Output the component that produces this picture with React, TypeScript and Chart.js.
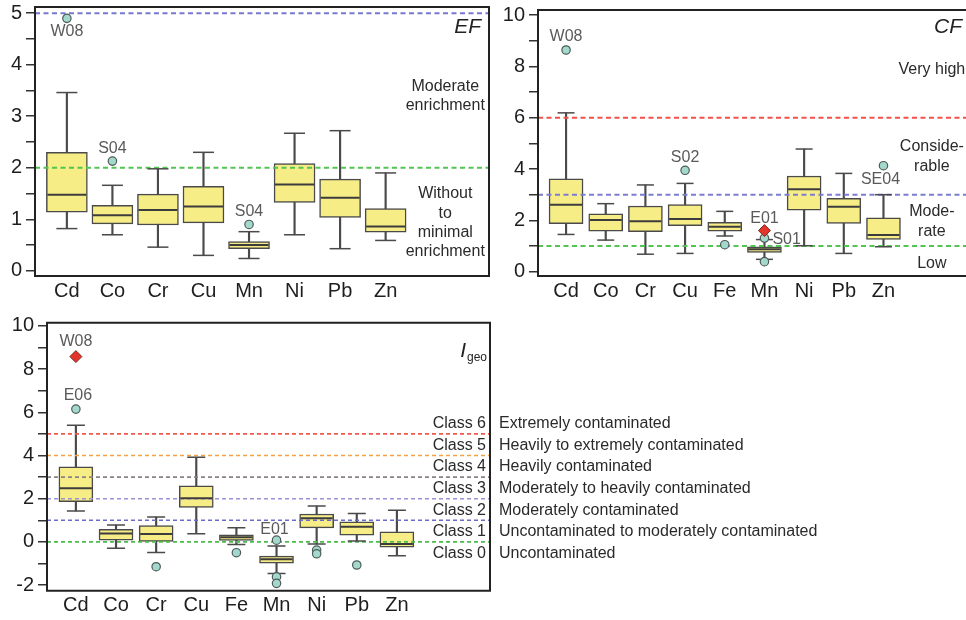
import { useEffect, useRef } from 'react';
import { Chart, registerables } from 'chart.js';
Chart.register(...registerables);

// ---------------- DATA ----------------
const EF_ELEMENTS = ['Cd', 'Co', 'Cr', 'Cu', 'Mn', 'Ni', 'Pb', 'Zn'];
const EF_MIN = [0.82, 0.70, 0.46, 0.30, 0.24, 0.70, 0.43, 0.59];
const EF_Q1 = [1.14, 0.91, 0.89, 0.93, 0.43, 1.33, 1.035, 0.75];
const EF_MEDIAN = [1.475, 1.08, 1.18, 1.25, 0.50, 1.675, 1.42, 0.86];
const EF_Q3 = [2.30, 1.27, 1.49, 1.64, 0.57, 2.08, 1.78, 1.21];
const EF_MAX = [3.46, 1.66, 1.98, 2.30, 0.76, 2.67, 2.72, 1.90];
const EF_OUTLIERS = [
  { el: 'Cd', v: 4.90, id: 'W08' },
  { el: 'Co', v: 2.13, id: 'S04' },
  { el: 'Mn', v: 0.90, id: 'S04' },
];
const EF_EXTREMES: { el: string; v: number; id?: string }[] = [];
const EF_THRESHOLDS = [5, 2];
const EF_Y_TICKS = [0, 0.5, 1, 1.5, 2, 2.5, 3, 3.5, 4, 4.5, 5];
const EF_Y_LABELS = [0, 1, 2, 3, 4, 5];
const EF_ZONES = [
  { text: 'Moderate', y: 3.58 },
  { text: 'enrichment', y: 3.21 },
  { text: 'Without', y: 1.49 },
  { text: 'to', y: 1.11 },
  { text: 'minimal', y: 0.74 },
  { text: 'enrichment', y: 0.37 },
];

const CF_ELEMENTS = ['Cd', 'Co', 'Cr', 'Cu', 'Fe', 'Mn', 'Ni', 'Pb', 'Zn'];
const CF_MIN = [1.45, 1.23, 0.68, 0.71, 1.39, 0.48, 1.01, 0.71, 0.97];
const CF_Q1 = [1.87, 1.58, 1.56, 1.79, 1.58, 0.75, 2.40, 1.88, 1.26];
const CF_MEDIAN = [2.61, 2.01, 1.96, 2.05, 1.75, 0.87, 3.21, 2.53, 1.43];
const CF_Q3 = [3.62, 2.25, 2.56, 2.61, 1.92, 0.97, 3.73, 2.86, 2.10];
const CF_MAX = [6.19, 2.65, 3.38, 3.44, 2.35, 1.25, 4.78, 3.83, 3.00];
const CF_OUTLIERS = [
  { el: 'Cd', v: 8.64, id: 'W08' },
  { el: 'Cu', v: 3.95, id: 'S02' },
  { el: 'Fe', v: 1.05 },
  { el: 'Mn', v: 1.31, id: 'S01' },
  { el: 'Mn', v: 0.39 },
  { el: 'Zn', v: 4.13, id: 'SE04' },
];
const CF_EXTREMES = [{ el: 'Mn', v: 1.60, id: 'E01' }];
const CF_THRESHOLDS = [6, 3, 1];
const CF_Y_TICKS = [0, 1, 2, 3, 4, 5, 6, 7, 8, 9, 10];
const CF_Y_LABELS = [0, 2, 4, 6, 8, 10];
const CF_ZONES = [
  { text: 'Very high', y: 7.86 },
  { text: 'Conside-', y: 4.87 },
  { text: 'rable', y: 4.10 },
  { text: 'Mode-', y: 2.33 },
  { text: 'rate', y: 1.57 },
  { text: 'Low', y: 0.33 },
];

const IGEO_ELEMENTS = ['Cd', 'Co', 'Cr', 'Cu', 'Fe', 'Mn', 'Ni', 'Pb', 'Zn'];
const IGEO_MIN = [1.43, -0.30, -0.49, 0.38, -0.12, -1.46, -0.10, 0.04, -0.64];
const IGEO_Q1 = [1.86, 0.08, 0.02, 1.60, 0.07, -0.99, 0.65, 0.31, -0.25];
const IGEO_MEDIAN = [2.48, 0.39, 0.36, 2.02, 0.21, -0.80, 1.09, 0.70, -0.10];
const IGEO_Q3 = [3.48, 0.58, 0.75, 2.60, 0.33, -0.66, 1.29, 0.93, 0.47];
const IGEO_MAX = [5.40, 0.78, 1.15, 3.92, 0.65, -0.19, 1.66, 1.32, 1.46];
const IGEO_OUTLIERS = [
  { el: 'Cd', v: 6.15, id: 'E06' },
  { el: 'Cr', v: -1.15 },
  { el: 'Fe', v: -0.50 },
  { el: 'Mn', v: 0.08, id: 'E01' },
  { el: 'Mn', v: -1.62 },
  { el: 'Mn', v: -1.92 },
  { el: 'Ni', v: -0.38 },
  { el: 'Ni', v: -0.55 },
  { el: 'Pb', v: -1.07 },
];
const IGEO_EXTREMES = [{ el: 'Cd', v: 8.58, id: 'W08' }];
const IGEO_THRESHOLDS = [5, 4, 3, 2, 1, 0];
const IGEO_Y_TICKS = [-2, -1, 0, 1, 2, 3, 4, 5, 6, 7, 8, 9, 10];
const IGEO_Y_LABELS = [-2, 0, 2, 4, 6, 8, 10];
const IGEO_CLASS_LEVELS = [6, 5, 4, 3, 2, 1, 0];
const IGEO_CLASS_NAMES = [
  'Extremely contaminated',
  'Heavily to extremely contaminated',
  'Heavily contaminated',
  'Moderately to heavily contaminated',
  'Moderately contaminated',
  'Uncontaminated to moderately contaminated',
  'Uncontaminated',
];

// ---------------- STYLES ----------------
const FONT = '"Liberation Sans", Arial, Helvetica, sans-serif';
const BOX_FILL = '#f7ed86';
const DARK = '#4a4a4a';
const OUT_FILL = '#a3d8cd';
const EXT_FILL = '#e2342b';
const LABEL_COLOR = '#5a5a5a';
const TEXT_COLOR = '#2a2a2a';

type Item = { el: string; v: number; id?: string };
type PanelCfg = {
  cats: string[];
  min: number[]; q1: number[]; med: number[]; q3: number[]; max: number[];
  outliers: Item[]; extremes: Item[];
  thresholds: number[]; thresholdColors: string[]; dash: number[]; dashWidth: number;
  yTicks: number[]; yLabels: number[];
  xMin: number; xMax: number; yMin: number; yMax: number;
  canvasW: number; canvasH: number;
  area: { left: number; top: number; right: number; bottom: number };
  openRight?: boolean;
  boxW: number; capW: number;
  labelPlace: Record<string, [number, number, CanvasTextAlign]>;
  decorate: (chart: any) => void;
};

function buildChart(canvas: HTMLCanvasElement, c: PanelCfg) {
  const pts = (arr: number[]) => arr.map((v, i) => ({ x: i, y: v }));
  const items = (arr: Item[]) => arr.map((o) => ({ x: c.cats.indexOf(o.el), y: o.v }));
  const datasets: any[] = [];
  datasets.push({
    type: 'bar', data: c.min.map((v, i) => ({ x: i, y: [v, c.max[i]] })),
    backgroundColor: DARK, borderWidth: 0, barThickness: 1.5, grouped: false, order: 9,
  });
  datasets.push({
    type: 'bar', data: c.q1.map((v, i) => ({ x: i, y: [v, c.q3[i]] })),
    backgroundColor: BOX_FILL, borderColor: DARK, borderWidth: 1.5, borderSkipped: false,
    barThickness: c.boxW, grouped: false, order: 8,
  });
  c.thresholds.forEach((t, k) => {
    datasets.push({
      type: 'line', data: [{ x: c.xMin, y: t }, { x: c.xMax, y: t }],
      borderColor: c.thresholdColors[k], borderWidth: c.dashWidth, borderDash: c.dash,
      pointRadius: 0, fill: false, order: 6,
    });
  });
  datasets.push({
    type: 'scatter', data: [...pts(c.min), ...pts(c.max)], pointStyle: 'line',
    pointRadius: c.capW / 2, pointBorderWidth: 1.5, borderColor: DARK, pointBorderColor: DARK, order: 5,
  });
  datasets.push({
    type: 'scatter', data: pts(c.med), pointStyle: 'line',
    pointRadius: c.boxW / 2 - 1, pointBorderWidth: 2, borderColor: '#3c3c3c', pointBorderColor: '#3c3c3c', order: 4,
  });
  datasets.push({
    type: 'scatter', data: items(c.outliers), pointStyle: 'circle', pointRadius: 4.2,
    pointBackgroundColor: OUT_FILL, pointBorderColor: '#4d5a57', pointBorderWidth: 1.2, order: 3,
  });
  datasets.push({
    type: 'scatter', data: items(c.extremes), pointStyle: 'rectRot', pointRadius: 6,
    pointBackgroundColor: EXT_FILL, pointBorderColor: '#7a2a22', pointBorderWidth: 1, order: 2,
  });

  const labelPlugin = {
    id: 'labels',
    afterDatasetsDraw(chart: any) {
      const ctx = chart.ctx;
      const xs = chart.scales.x, ys = chart.scales.y;
      ctx.save();
      ctx.font = `16px ${FONT}`;
      ctx.fillStyle = LABEL_COLOR;
      ctx.textBaseline = 'middle';
      [...c.outliers, ...c.extremes].forEach((o) => {
        if (!o.id) return;
        const p = c.labelPlace[o.id] || [0, -13, 'center'];
        ctx.textAlign = p[2];
        ctx.fillText(o.id, xs.getPixelForValue(c.cats.indexOf(o.el)) + p[0], ys.getPixelForValue(o.v) + p[1]);
      });
      ctx.restore();
    },
    afterDraw(chart: any) {
      const ctx = chart.ctx;
      const a = chart.chartArea;
      ctx.save();
      ctx.strokeStyle = '#222';
      ctx.lineWidth = 2;
      ctx.beginPath();
      if (c.openRight) {
        ctx.moveTo(a.right + 2, a.top);
        ctx.lineTo(a.left, a.top);
        ctx.lineTo(a.left, a.bottom);
        ctx.lineTo(a.right + 2, a.bottom);
      } else {
        ctx.rect(a.left, a.top, a.right - a.left, a.bottom - a.top);
      }
      ctx.stroke();
      ctx.restore();
      ctx.save();
      c.decorate(chart);
      ctx.restore();
    },
  };

  const zeroPad = (s: any) => {
    s.paddingTop = 0; s.paddingBottom = 0; s.paddingLeft = 0; s.paddingRight = 0;
  };

  return new Chart(canvas, {
    type: 'bar',
    data: { datasets },
    options: {
      animation: false,
      responsive: false,
      events: [],
      layout: { autoPadding: false, padding: { top: c.area.top, right: c.canvasW - c.area.right, left: 0, bottom: 0 } },
      plugins: { legend: { display: false }, tooltip: { enabled: false } },
      scales: {
        x: {
          type: 'linear', min: c.xMin, max: c.xMax, offset: false,
          grid: { display: false, drawTicks: false, offset: false },
          border: { display: false },
          afterBuildTicks: (s: any) => { s.ticks = c.cats.map((_, i) => ({ value: i })); },
          afterFit: (s: any) => { s.height = c.canvasH - c.area.bottom; zeroPad(s); },
          ticks: {
            autoSkip: false, maxRotation: 0, padding: 3, color: '#1e1e1e',
            font: { family: FONT, size: 20 },
            callback: (v: any) => c.cats[v] ?? '',
          },
        },
        y: {
          type: 'linear', min: c.yMin, max: c.yMax,
          grid: { display: true, drawOnChartArea: false, drawTicks: true, tickLength: 9, color: '#333', lineWidth: 1.5 },
          border: { display: false },
          afterBuildTicks: (s: any) => { s.ticks = c.yTicks.map((v) => ({ value: v })); },
          afterFit: (s: any) => { s.width = c.area.left; zeroPad(s); },
          ticks: {
            autoSkip: false, padding: 4, color: '#1e1e1e',
            font: { family: FONT, size: 20 },
            callback: (v: any) => (c.yLabels.includes(v) ? String(v) : ''),
          },
        },
      },
    } as any,
    plugins: [labelPlugin],
  });
}

function Panel({ cfg, left, top }: { cfg: PanelCfg; left: number; top: number }) {
  const ref = useRef<HTMLCanvasElement>(null);
  useEffect(() => {
    const ch = buildChart(ref.current!, cfg);
    return () => ch.destroy();
  }, []);
  return (
    <canvas
      ref={ref}
      width={cfg.canvasW}
      height={cfg.canvasH}
      style={{ position: 'absolute', left, top, width: cfg.canvasW, height: cfg.canvasH }}
    />
  );
}

function zoneText(zones: { text: string; y: number }[], xVal: number) {
  return (chart: any) => {
    const ctx = chart.ctx;
    ctx.font = `16px ${FONT}`;
    ctx.fillStyle = TEXT_COLOR;
    ctx.textAlign = 'center';
    ctx.textBaseline = 'middle';
    zones.forEach((z) => ctx.fillText(z.text, chart.scales.x.getPixelForValue(xVal), chart.scales.y.getPixelForValue(z.y)));
  };
}

const efCfg: PanelCfg = {
  cats: EF_ELEMENTS, min: EF_MIN, q1: EF_Q1, med: EF_MEDIAN, q3: EF_Q3, max: EF_MAX,
  outliers: EF_OUTLIERS, extremes: EF_EXTREMES,
  thresholds: EF_THRESHOLDS, thresholdColors: ['#7878d0', '#52c452'], dash: [5, 3.5], dashWidth: 2,
  yTicks: EF_Y_TICKS, yLabels: EF_Y_LABELS,
  xMin: -0.70, xMax: 9.27, yMin: -0.10, yMax: 5.12,
  canvasW: 490, canvasH: 305,
  area: { left: 35, top: 7, right: 489, bottom: 276 },
  boxW: 41, capW: 21,
  labelPlace: { W08: [0, 13.5, 'center'], S04: [0, -12.5, 'center'] },
  decorate: (chart: any) => {
    zoneText(EF_ZONES, 8.31)(chart);
    const ctx = chart.ctx;
    ctx.font = `italic 21px ${FONT}`;
    ctx.fillStyle = '#222';
    ctx.textAlign = 'right';
    ctx.textBaseline = 'middle';
    ctx.fillText('EF', chart.chartArea.right - 8, chart.chartArea.top + 20);
  },
};

const cfCfg: PanelCfg = {
  cats: CF_ELEMENTS, min: CF_MIN, q1: CF_Q1, med: CF_MEDIAN, q3: CF_Q3, max: CF_MAX,
  outliers: CF_OUTLIERS, extremes: CF_EXTREMES,
  thresholds: CF_THRESHOLDS, thresholdColors: ['#f2504a', '#7c7cd0', '#52c452'], dash: [5, 3.5], dashWidth: 2,
  yTicks: CF_Y_TICKS, yLabels: CF_Y_LABELS,
  xMin: -0.707, xMax: 10.08, yMin: -0.17, yMax: 10.2,
  canvasW: 476, canvasH: 305,
  area: { left: 48, top: 10, right: 476, bottom: 276 },
  openRight: true,
  boxW: 34, capW: 17,
  labelPlace: {
    W08: [0, -13.5, 'center'], S02: [0, -13, 'center'], SE04: [-3, 13.5, 'center'],
    S01: [8, 2, 'left'], E01: [0, -12.5, 'center'],
  },
  decorate: (chart: any) => {
    zoneText(CF_ZONES, 9.22)(chart);
    const ctx = chart.ctx;
    ctx.font = `italic 21px ${FONT}`;
    ctx.fillStyle = '#222';
    ctx.textAlign = 'right';
    ctx.textBaseline = 'middle';
    ctx.fillText('CF', chart.chartArea.right - 4, chart.chartArea.top + 17);
  },
};

const igeoCfg: PanelCfg = {
  cats: IGEO_ELEMENTS, min: IGEO_MIN, q1: IGEO_Q1, med: IGEO_MEDIAN, q3: IGEO_Q3, max: IGEO_MAX,
  outliers: IGEO_OUTLIERS, extremes: IGEO_EXTREMES,
  thresholds: IGEO_THRESHOLDS,
  thresholdColors: ['#f0584c', '#f5a342', '#8c8282', '#9c90d8', '#6a6ac8', '#4cbc4c'],
  dash: [4, 3], dashWidth: 1.6,
  yTicks: IGEO_Y_TICKS, yLabels: IGEO_Y_LABELS,
  xMin: -0.72, xMax: 10.32, yMin: -2.26, yMax: 10.15,
  canvasW: 966, canvasH: 315,
  area: { left: 47, top: 17.7, right: 490, bottom: 285.7 },
  boxW: 34, capW: 18,
  labelPlace: { W08: [0, -15, 'center'], E06: [2, -13, 'center'], E01: [-2, -11, 'center'] },
  decorate: (chart: any) => {
    const ctx = chart.ctx;
    const a = chart.chartArea;
    const ys = chart.scales.y;
    ctx.font = `16px ${FONT}`;
    ctx.fillStyle = TEXT_COLOR;
    ctx.textBaseline = 'middle';
    IGEO_CLASS_LEVELS.forEach((n, k) => {
      const y = ys.getPixelForValue(n - 0.53);
      ctx.textAlign = 'right';
      ctx.fillText(`Class ${n}`, a.right - 4, y);
      ctx.textAlign = 'left';
      ctx.fillText(IGEO_CLASS_NAMES[k], a.right + 9, y);
    });
    // title I_geo
    ctx.fillStyle = '#222';
    ctx.textBaseline = 'alphabetic';
    ctx.textAlign = 'right';
    ctx.font = `12px ${FONT}`;
    const gx = a.right - 3;
    ctx.fillText('geo', gx, a.top + 38);
    const gw = ctx.measureText('geo').width;
    ctx.font = `italic 21px ${FONT}`;
    ctx.fillText('I', gx - gw - 1, a.top + 34);
  },
};

export default function App() {
  return (
    <div style={{ position: 'absolute', left: 0, top: 0, width: 966, height: 620, background: '#fff' }}>
      <Panel cfg={efCfg} left={0} top={0} />
      <Panel cfg={cfCfg} left={490} top={0} />
      <Panel cfg={igeoCfg} left={0} top={305} />
    </div>
  );
}
